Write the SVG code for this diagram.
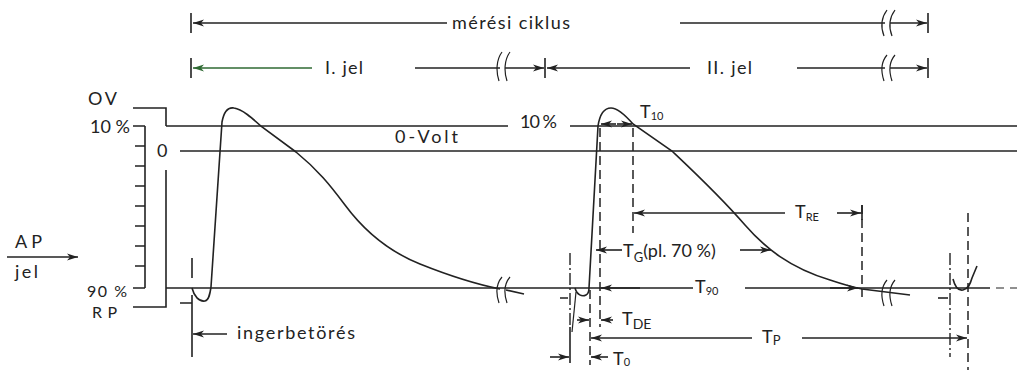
<svg xmlns="http://www.w3.org/2000/svg" width="1017" height="370" viewBox="0 0 1017 370">
<defs>
<marker id="ah" markerUnits="userSpaceOnUse" viewBox="0 0 12 8" markerWidth="12" markerHeight="8" refX="11" refY="4" orient="auto-start-reverse"><path d="M0,0.6 L11,4 L0,7.4 L3,4 Z" fill="#222"/></marker>
<marker id="ahg" markerUnits="userSpaceOnUse" viewBox="0 0 12 8" markerWidth="12" markerHeight="8" refX="11" refY="4" orient="auto-start-reverse"><path d="M0,0.6 L11,4 L0,7.4 L3,4 Z" fill="#2f6a33"/></marker>
</defs>
<style>
.l{stroke:#222;stroke-width:1.6;fill:none}
.t{stroke:#222;stroke-width:1.2;fill:none}
.d{stroke:#222;stroke-width:1.5;fill:none;stroke-dasharray:9 5}
.dd{stroke:#222;stroke-width:1.4;fill:none;stroke-dasharray:12 3 2 3}
.a{marker-end:url(#ah)}
text{font-family:Lato,"DejaVu Sans",sans-serif;font-size:18px;fill:#222}
.s{font-size:11px}
.sc{font-size:16px}
</style>
<rect width="1017" height="370" fill="#fff"/>

<g id="cycle-row">
<path class="l" d="M191,13 V33 M928,13 V33"/>
<path class="l a" d="M447,23 H193"/>
<text x="452" y="29" textLength="118" lengthAdjust="spacing">mérési ciklus</text>
<path class="l" d="M680,23 H885"/>
<path class="t" d="M887,10 C881,18 881,28 884,36 M895,10 C889,18 889,28 892,36"/>
<path class="l a" d="M890,23 H927"/>
</g>

<g id="signal-row">
<path class="l" d="M191,58 V78 M545,58 V78 M928,58 V78"/>
<path d="M312,68 H193" stroke="#2f6a33" stroke-width="1.6" fill="none" marker-end="url(#ahg)"/>
<text x="325" y="74" textLength="38" lengthAdjust="spacing">I. jel</text>
<path class="l" d="M415,68 H500"/>
<path class="t" d="M502,52 C496,60 496,72 499,81 M510,52 C504,60 504,72 507,81"/>
<path class="l a" d="M505,68 H544"/>
<path class="l a" d="M690,68 H547"/>
<text x="707" y="74" textLength="45" lengthAdjust="spacing">II. jel</text>
<path class="l" d="M797,68 H885"/>
<path class="t" d="M887,55 C881,62 881,72 884,81 M895,55 C889,62 889,72 892,81"/>
<path class="l a" d="M890,68 H927"/>
</g>

<g id="scale">
<text x="88" y="105" textLength="29" lengthAdjust="spacing">OV</text>
<text x="90" y="133" textLength="40" lengthAdjust="spacing">10 %</text>
<text class="sc" x="87" y="297" textLength="40" lengthAdjust="spacing">90 %</text>
<text class="sc" x="92" y="318" textLength="25" lengthAdjust="spacing">RP</text>
<text x="157" y="157">0</text>
<path class="l" d="M133,108 H166 V126"/>
<path class="l" d="M145,126 V288 M133,126 H145 M135,146 H145 M135,166 H145 M135,186 H145 M135,206 H145 M135,226 H145 M135,246 H145 M135,266 H145 M133,288 H145"/>
<path class="l" d="M166,170 V307 H133"/>
</g>

<g id="levels">
<path class="l" d="M166,126 H508 M570,126 H1017"/>
<text x="520" y="128" textLength="37" lengthAdjust="spacing">10 %</text>
<path class="l" d="M180,151 H1017"/>
<text x="395" y="143" textLength="63" lengthAdjust="spacing">0-Volt</text>
<path class="l" d="M166,288 H693 M745,288 H990"/>
<path class="t" d="M996,288 H1004 M1010,288 H1017"/>
</g>

<g id="ap-input">
<text x="15" y="248" textLength="27" lengthAdjust="spacing">AP</text>
<path class="l a" d="M7,257 H78"/>
<text x="15" y="278" textLength="23" lengthAdjust="spacing">jel</text>
</g>

<g id="pulse1">
<path class="l" d="M192,288 C194,296 199,302 205,301 C209,300 210,294 211,287 L222,122 C224,111 228,107 234,108 C242,109 252,118 262,127 L296,152 C318,170 330,185 345,205 C365,232 390,252 420,264 C445,274 470,283 500,289"/>
<path class="t" d="M502,277 C496,284 496,294 499,303 M510,277 C504,284 504,294 507,303"/>
<path class="l" d="M506,290 L524,294"/>
</g>

<g id="pulse2">
<path class="l" d="M575,288 C577,295 582,297 586,295 C588,294 589,291 589,288 L598,126 C600,113 605,108 611,108 C618,108 626,116 633,124 L672,151 C690,168 720,196 745,225 C765,248 790,268 830,280 C845,285 852,287 862,289 L910,295"/>
<path class="t" d="M887,280 C881,287 881,297 884,306 M895,280 C889,287 889,297 892,306"/>
</g>

<g id="pulse3">
<path class="l" d="M953,279 C955,287 958,291 963,290 C968,289 970,285 972,278 L977,266"/>
</g>

<g id="stimulus">
<path class="l" d="M192,258 V278 M192,295 V357 M180,303 H192"/>
<path class="l a" d="M227,334 H193"/>
<text x="237" y="339" textLength="118" lengthAdjust="spacing">ingerbetörés</text>
</g>

<g id="connectors">
<path class="dd" d="M570,253 V327"/>
<path class="l" d="M570,327 V363 M560,298 H568"/>
<path class="t" d="M572,332 L576,292"/>
<path class="d" d="M590,290 V365"/>
<path class="d" d="M600,128 V327"/>
<path class="d" d="M633,128 V233"/>
<path class="d" d="M862,205 V297"/>
<path class="dd" d="M950,253 V357"/>
<path class="l" d="M938,298 H948"/>
<path class="d" d="M968,213 V370"/>

<path class="l a" d="M616,124 H601"/>
<path class="l a" d="M617,124 H632"/>
<path class="l a" d="M785,213 H634"/>
<path class="l a" d="M837,213 H861"/>
<path class="l" d="M862,205 V220"/>
<path class="l a" d="M622,250 H596"/>
<path class="l a" d="M740,250 H771"/>
<path class="l a" d="M640,288 H601"/>
<path class="l a" d="M830,288 H858"/>
<path class="l a" d="M577,320 H589"/>
<path class="l a" d="M613,320 H601"/>
<path class="l a" d="M752,338 H591"/>
<path class="l a" d="M802,338 H967"/>
<path class="l a" d="M550,357 H569"/>
<path class="l a" d="M608,357 H591"/>
</g>

<g id="labels">
<text x="640" y="118">T<tspan class="s" dy="2">10</tspan></text>
<text x="795" y="218">T<tspan class="s" dy="3">RE</tspan></text>
<text x="623" y="257">T<tspan font-size="13" dy="5">G</tspan><tspan dy="-5">(pl. 70 %)</tspan></text>
<text x="695" y="293">T<tspan class="s" dy="2">90</tspan></text>
<text x="622" y="325">T<tspan font-size="14" dy="4">DE</tspan></text>
<text x="762" y="343">T<tspan font-size="13" dy="2">P</tspan></text>
<text x="613" y="365">T<tspan class="s" dy="1">0</tspan></text>
</g>
</svg>
